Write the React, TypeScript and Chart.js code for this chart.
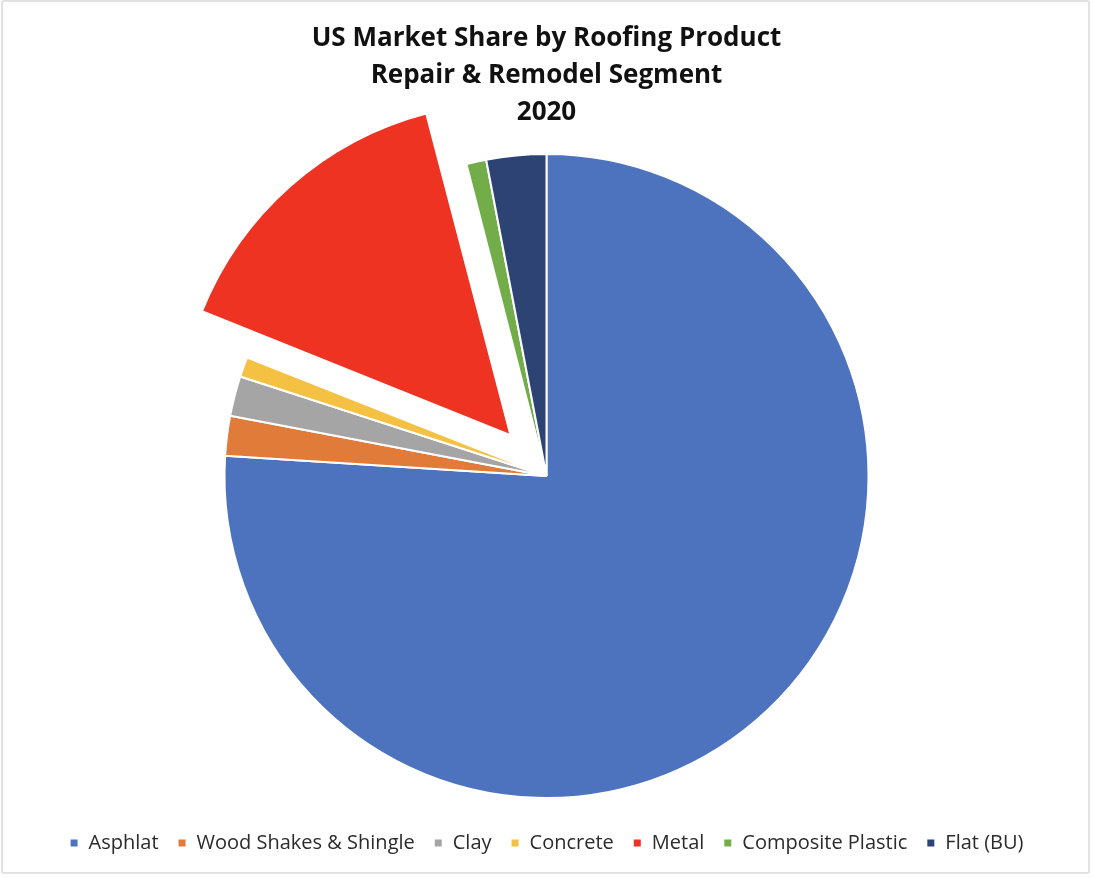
import React, { useEffect, useRef } from "react";
import { Chart, registerables } from "chart.js";

Chart.register(...registerables);

const titleLines = ["US Market Share by Roofing Product", "Repair & Remodel Segment", "2020"];
const categories = ["Asphlat", "Wood Shakes & Shingle", "Clay", "Concrete", "Metal", "Composite Plastic", "Flat (BU)"];
const shares = [76, 2, 2, 1, 15, 1, 3];
const colors = ["#4E73BE", "#E07B3A", "#A5A5A5", "#F5C142", "#EE3322", "#72AD4A", "#2C4373"];
const offsets = [0, 0, 0, 0, 218, 0, 0];

export default function App() {
  const ref = useRef<HTMLCanvasElement | null>(null);
  useEffect(() => {
    if (!ref.current) return;
    const chart = new Chart(ref.current, {
      type: "pie",
      data: {
        labels: categories,
        datasets: [
          {
            data: shares,
            backgroundColor: colors,
            borderColor: "#ffffff",
            borderWidth: 2,
            offset: offsets,
          },
        ],
      },
      options: {
        responsive: false,
        animation: false,
        radius: 322,
        layout: { padding: { top: 0, bottom: 15, left: 0, right: 0 } },
        plugins: {
          tooltip: { enabled: false },
          title: {
            display: true,
            text: titleLines,
            color: "#111111",
            font: { family: "Open Sans", size: 26, weight: "bold", lineHeight: "37px" },
            padding: { top: 20, bottom: 7 },
          },
          legend: {
            position: "bottom",
            labels: {
              color: "#2b2b2b",
              font: { family: "Open Sans", size: 20 },
              boxWidth: 9,
              boxHeight: 9,
              padding: 19,
            },
          },
        },
      },
    });
    return () => chart.destroy();
  }, []);
  return (
    <div style={{ position: "fixed", left: 0, top: 0, width: 1093, height: 878, background: "#fff" }}>
      <canvas ref={ref} width={1093} height={878} style={{ position: "absolute", left: 0, top: 0 }} />
      <div
        style={{
          position: "absolute",
          left: 1,
          top: 0,
          width: 1089,
          height: 874,
          boxSizing: "border-box",
          border: "2px solid #e2e2e2",
          borderRadius: 3,
          pointerEvents: "none",
        }}
      />
    </div>
  );
}
